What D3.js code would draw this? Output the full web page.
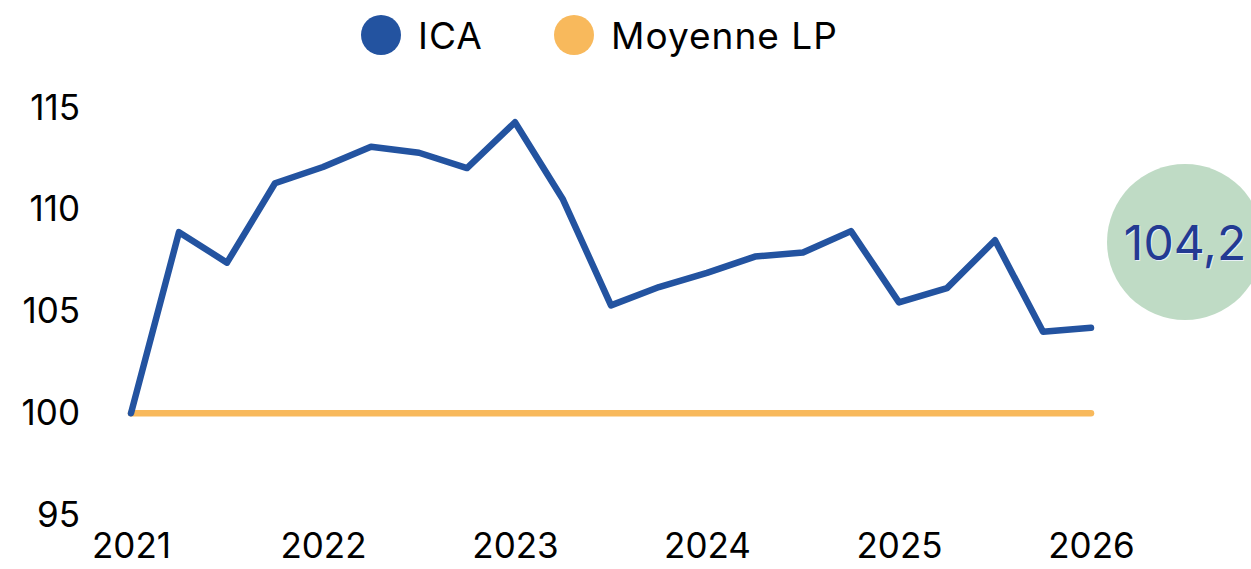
<!DOCTYPE html>
<html>
<head>
<meta charset="utf-8">
<script src="https://cdn.jsdelivr.net/npm/d3@7"></script>
<style>
  html, body { margin: 0; padding: 0; background: #fff; }
  svg { display: block; font-family: Inter, "Noto Sans", sans-serif; }
</style>
</head>
<body>
<svg id="chart" width="1251" height="569"></svg>
<script>
// quarterly index, 2021 Q1 .. 2026 Q1
const quarters = d3.range(21).map(function (i) { return 2021 + i / 4; });
const icaValues = [100.0, 108.9, 107.4, 111.3, 112.1, 113.1, 112.8, 112.05, 114.3, 110.5,
  105.3, 106.2, 106.9, 107.7, 107.9, 108.95, 105.45, 106.15, 108.5, 104.0, 104.2];
const avgValues = quarters.map(function () { return 100; });
const yearTicks = [2021, 2022, 2023, 2024, 2025, 2026];
const yTicks = [95, 100, 105, 110, 115];
const lastLabel = '104,2';

const series = [
  { name: 'ICA', color: '#2353A0', values: icaValues },
  { name: 'Moyenne LP', color: '#F8B95C', values: avgValues }
];

const svg = d3.select('#chart');

const x = d3.scaleLinear().domain([2021, 2026]).range([131, 1091]);
const y = d3.scaleLinear().domain([95, 115]).range([515, 108]);

// y axis labels
const yAxis = svg.append('g')
  .attr('transform', 'translate(80,0)')
  .call(d3.axisLeft(y).tickValues(yTicks).tickSize(0).tickPadding(0).tickFormat(d3.format('d')));
yAxis.select('.domain').remove();
yAxis.selectAll('text')
  .attr('font-family', 'Inter, "Noto Sans", sans-serif')
  .attr('font-size', 35)
  .attr('fill', '#000');

// x axis labels
const xAxis = svg.append('g')
  .attr('transform', 'translate(0,533)')
  .call(d3.axisBottom(x).tickValues(yearTicks).tickSize(0).tickPadding(0).tickFormat(d3.format('d')));
xAxis.select('.domain').remove();
xAxis.selectAll('text')
  .attr('font-family', 'Inter, "Noto Sans", sans-serif')
  .attr('font-size', 35)
  .attr('fill', '#000');

const line = d3.line()
  .x(function (d, i) { return x(quarters[i]); })
  .y(function (d) { return y(d); });

// draw average first, ICA on top
svg.append('g').selectAll('path')
  .data(series.slice().reverse())
  .join('path')
  .attr('fill', 'none')
  .attr('stroke', function (d) { return d.color; })
  .attr('stroke-width', 6.5)
  .attr('stroke-linejoin', 'round')
  .attr('stroke-linecap', 'round')
  .attr('d', function (d) { return line(d.values); });

// bubble with last value
const bubble = svg.append('g').attr('transform', 'translate(1185,242)');
bubble.append('circle').attr('r', 78).attr('fill', '#BFDBC5');
bubble.append('text')
  .attr('x', 1).attr('y', 1)
  .attr('text-anchor', 'middle')
  .attr('dominant-baseline', 'central')
  .attr('font-size', 48)
  .attr('fill', '#E8F0F6')
  .text(lastLabel);
bubble.append('text')
  .attr('text-anchor', 'middle')
  .attr('dominant-baseline', 'central')
  .attr('font-size', 48)
  .attr('fill', '#233A92')
  .text(lastLabel);

// legend
const legendX = [381, 574];
const legend = svg.append('g').selectAll('g')
  .data(series)
  .join('g')
  .attr('transform', function (d, i) { return 'translate(' + legendX[i] + ',35)'; });
legend.append('circle').attr('r', 20).attr('fill', function (d) { return d.color; });
legend.append('text')
  .attr('x', 37)
  .attr('dominant-baseline', 'central')
  .attr('font-size', 37)
  .attr('letter-spacing', 1)
  .attr('fill', '#000')
  .text(function (d) { return d.name; });
</script>
</body>
</html>
